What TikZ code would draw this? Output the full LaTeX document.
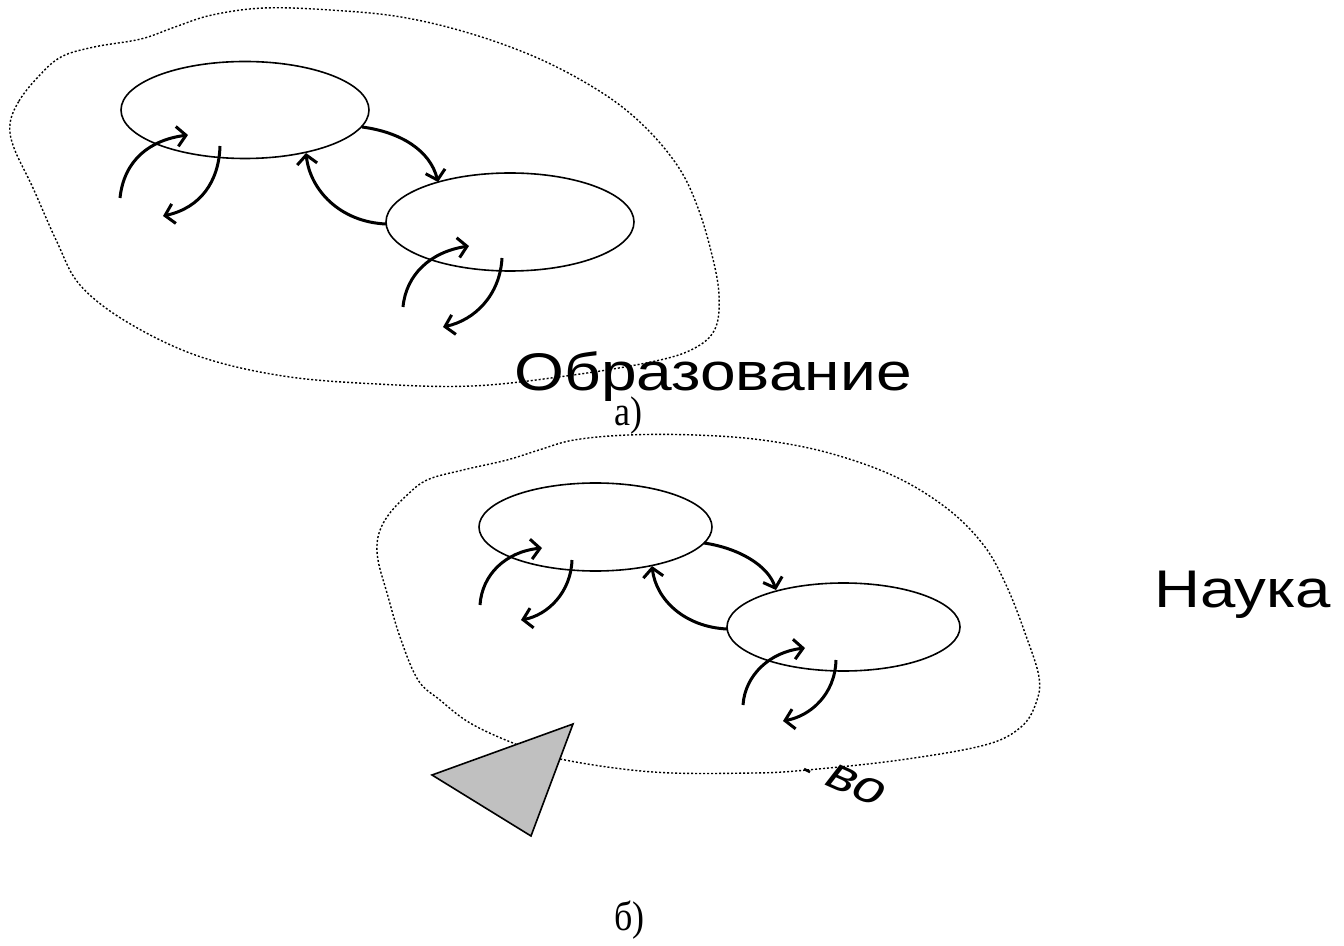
\documentclass[tikz,border=0pt]{standalone}
\usepackage{fontspec}
\setmainfont{Liberation Serif}
\newfontfamily\labfont{Liberation Sans}
\usetikzlibrary{arrows.meta,shapes.geometric}
\tikzset{
  blob/.style={line width=0.7pt, dash pattern=on 1pt off 1pt},
  oval/.style={draw, ellipse, line width=0.8pt, inner sep=0pt},
  flow/.style={line width=1.5pt, -{Straight Barb[length=4.5pt,width=10pt]}},
  bigword/.style={inner sep=0pt, font=\labfont\fontsize{26.5pt}{30pt}\selectfont},
  caption/.style={inner sep=0pt, font=\fontsize{18pt}{22pt}\selectfont},
  tri/.style={draw, fill={rgb,255:red,192;green,192;blue,192}, line width=0.8pt, line join=miter}
}
\begin{document}
\begin{tikzpicture}[x=0.5pt,y=-0.5pt]
\useasboundingbox (0,0) rectangle (1344,946);

% ---------- a) ----------
\node[bigword, anchor=base west] (obr) at (514,391) {\scalebox{1.21}[1]{Образование}};
\node[caption, anchor=base west] (capa) at (614,426) {\scalebox{1}[1.15]{а)}};

\draw[blob] plot[smooth cycle, tension=0.6] coordinates {
 (10,124) (19,101) (38,77) (61,57) (94,47) (141,39) (175,27) (212,15) (264,8) (330,10)
 (401,17) (472,34) (542,60) (604,94) (646,128) (679,168) (698,208) (712,255) (719,295)
 (715,329) (693,349) (651,362) (566,376) (472,386) (377,384) (283,376) (198,356)
 (127,322) (80,285) (57,242) (33,188) (14,148)};

\node[oval, minimum width=124pt, minimum height=48.5pt] (e1) at (245,110) {};
\node[oval, minimum width=124pt, minimum height=49pt] (e2) at (510,222) {};

\coordinate (a1s) at (120,198); \coordinate (a1e) at (188,135);
\coordinate (b1s) at (220,146); \coordinate (b1e) at (163,216);
\coordinate (c1s) at (362,127); \coordinate (c1e) at (438,182);
\coordinate (d1s) at (386,224); \coordinate (d1e) at (306,153);
\coordinate (a2s) at (403,307); \coordinate (a2e) at (469,246);
\coordinate (b2s) at (502,258); \coordinate (b2e) at (443,327);

\draw[flow] (a1s) .. controls (124,160) and (150,140) .. (a1e);
\draw[flow] (b1s) .. controls (219,182) and (200,208) .. (b1e);
\draw[flow] (c1s) .. controls (400,132) and (430,150) .. (c1e);
\draw[flow] (d1s) .. controls (340,222) and (310,190) .. (d1e);
\draw[flow] (a2s) .. controls (406,275) and (430,252) .. (a2e);
\draw[flow] (b2s) .. controls (500,295) and (475,320) .. (b2e);

% ---------- b) ----------
\node[bigword, anchor=base west] (nauka) at (1154,607) {\scalebox{1.2}[1]{Наука}};
\begin{scope}[shift={(821,783)}, yscale=0.76]
  \node[transform shape, rotate=-30.4, anchor=base west, inner sep=0pt,
        font=\labfont\fontsize{29pt}{32pt}\selectfont] (vo) at (0,0) {во};
\end{scope}
\draw[line width=1.3pt] (804,769) -- (810,772);

\draw[blob] plot[smooth cycle, tension=0.6] coordinates {
 (378,537) (378,560) (387,593) (400,637) (418,680) (440,700) (470,723) (513,743)
 (560,759) (653,772) (753,773) (807,770) (900,760) (985,745) (1021,727) (1036,703)
 (1039,677) (1025,633) (1007,587) (985,547) (949,510) (896,477) (829,453) (762,440)
 (695,435) (628,435) (574,440) (539,450) (507,460) (463,470) (427,480) (405,497) (387,517)};

\node[oval, minimum width=116.5pt, minimum height=44pt] (e3) at (595.5,527) {};
\node[oval, minimum width=116.5pt, minimum height=44pt] (e4) at (843.5,627) {};

\coordinate (a3s) at (480,605); \coordinate (a3e) at (542,548);
\coordinate (b3s) at (572,560); \coordinate (b3e) at (521,620);
\coordinate (c3s) at (704,543); \coordinate (c3e) at (776,590);
\coordinate (d3s) at (727,629); \coordinate (d3e) at (652,566);
\coordinate (a4s) at (743,705); \coordinate (a4e) at (805,648);
\coordinate (b4s) at (836,660); \coordinate (b4e) at (783,721);

\draw[flow] (a3s) .. controls (482,575) and (505,552) .. (a3e);
\draw[flow] (b3s) .. controls (571,592) and (548,615) .. (b3e);
\draw[flow] (c3s) .. controls (738,548) and (768,565) .. (c3e);
\draw[flow] (d3s) .. controls (685,627) and (656,600) .. (d3e);
\draw[flow] (a4s) .. controls (745,675) and (770,652) .. (a4e);
\draw[flow] (b4s) .. controls (835,695) and (810,716) .. (b4e);

\filldraw[tri] (432,775) -- (573,724) -- (531,836) -- cycle;

\node[caption, anchor=base west] (capb) at (614,930) {\scalebox{1}[1.15]{б)}};
\end{tikzpicture}
\end{document}
